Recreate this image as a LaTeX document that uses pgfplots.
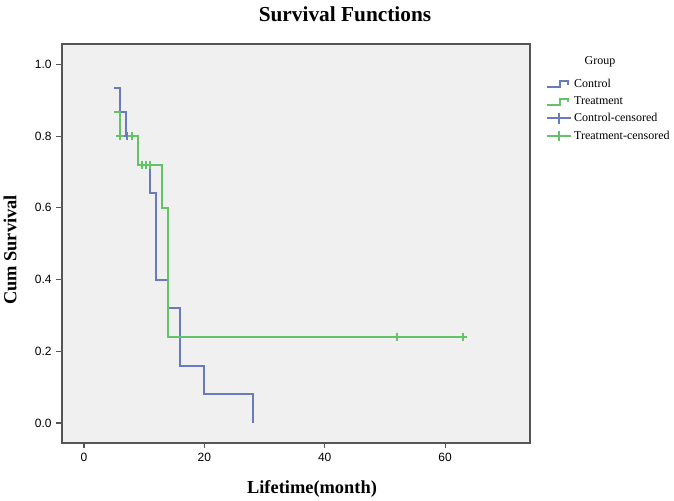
\documentclass[border=0pt]{standalone}
\usepackage{pgfplots}
\pgfplotsset{compat=1.18}
\usepackage{fontspec}
\setmainfont{Liberation Serif}
\setsansfont{Liberation Sans}
\definecolor{ctrl}{RGB}{105,122,190}
\definecolor{trt}{RGB}{100,195,105}
\definecolor{bgc}{RGB}{240,240,240}
\definecolor{framec}{RGB}{85,85,85}
\newcommand{\px}[2]{({(#1-61.7)*0.75pt},{(443-#2)*0.75pt})}
\begin{document}
\begin{tikzpicture}
\useasboundingbox \px{0}{500} rectangle \px{674}{0};
\begin{axis}[
  at={(0,0)}, anchor=south west,
  scale only axis, width=351.2pt, height=299.25pt,
  xmin=-3.7, xmax=74.1, ymin=-0.056, ymax=1.057,
  axis background/.style={fill=bgc},
  axis line style={framec, line width=1.3pt},
  xtick={0,20,40,60}, ytick={0,0.2,0.4,0.6,0.8,1},
  tick pos=left, tick align=outside, major tick length=4pt,
  tick style={framec, line width=0.9pt},
  yticklabel style={/pgf/number format/.cd, fixed, fixed zerofill, precision=1},
  ticklabel style={font=\sffamily\fontsize{9}{10}\selectfont},
  /pgf/number format/assume math mode=true,
  legend style={draw=none, fill=none, at={(1.034,0.918)}, anchor=north west,
    font=\fontsize{9}{10}\selectfont, row sep=2.3pt, inner sep=0pt,
    nodes={inner sep=1.5pt}},
  legend cell align=left,
]
\addlegendimage{legend image code/.code={\draw[ctrl, line width=1.5pt] (0pt,-2.5pt)--(10pt,-2.5pt)--(10pt,2pt)--(16pt,2pt)--(16pt,-0.5pt);}}
\addlegendentry{Control}
\addlegendimage{legend image code/.code={\draw[trt, line width=1.5pt] (0pt,-2.5pt)--(10pt,-2.5pt)--(10pt,2pt)--(16pt,2pt)--(16pt,-0.5pt);}}
\addlegendentry{Treatment}
\addlegendimage{legend image code/.code={\draw[ctrl, line width=1.5pt] (0pt,0pt)--(18pt,0pt); \draw[ctrl, line width=1.5pt] (9pt,-4pt)--(9pt,4pt);}}
\addlegendentry{Control-censored}
\addlegendimage{legend image code/.code={\draw[trt, line width=1.5pt] (0pt,0pt)--(18pt,0pt); \draw[trt, line width=1.5pt] (9pt,-4pt)--(9pt,4pt);}}
\addlegendentry{Treatment-censored}

\addplot[ctrl, line width=1.5pt, const plot, forget plot] coordinates {
 (5,0.933) (6,0.867) (7,0.8) (9,0.72) (11,0.64) (12,0.4) (14,0.32) (16,0.16) (20,0.08) (28,0)
};
\addplot[trt, line width=1.5pt, const plot, forget plot] coordinates {
 (5,0.867) (6,0.8) (9,0.72) (13,0.6) (14,0.24) (63,0.24)
};
\addplot[ctrl, only marks, mark=+, mark size=3pt, line width=1.3pt, forget plot] coordinates {
 (7.2,0.8)
};
\addplot[trt, only marks, mark=+, mark size=3pt, line width=1.3pt, forget plot] coordinates {
 (6,0.8) (8,0.8) (9.6,0.72) (10.3,0.72) (11,0.72) (52,0.24) (63,0.24)
};
\end{axis}
\node[font=\bfseries\fontsize{16}{18}\selectfont] at \px{345}{14} {Survival Functions};
\node[font=\bfseries\fontsize{13.8}{16}\selectfont] at \px{312}{489} {Lifetime(month)};
\node[font=\bfseries\fontsize{13.8}{16}\selectfont, rotate=90] at \px{10}{250} {Cum Survival};
\node[font=\fontsize{9}{10}\selectfont] at \px{600}{62} {Group};
\end{tikzpicture}
\end{document}
